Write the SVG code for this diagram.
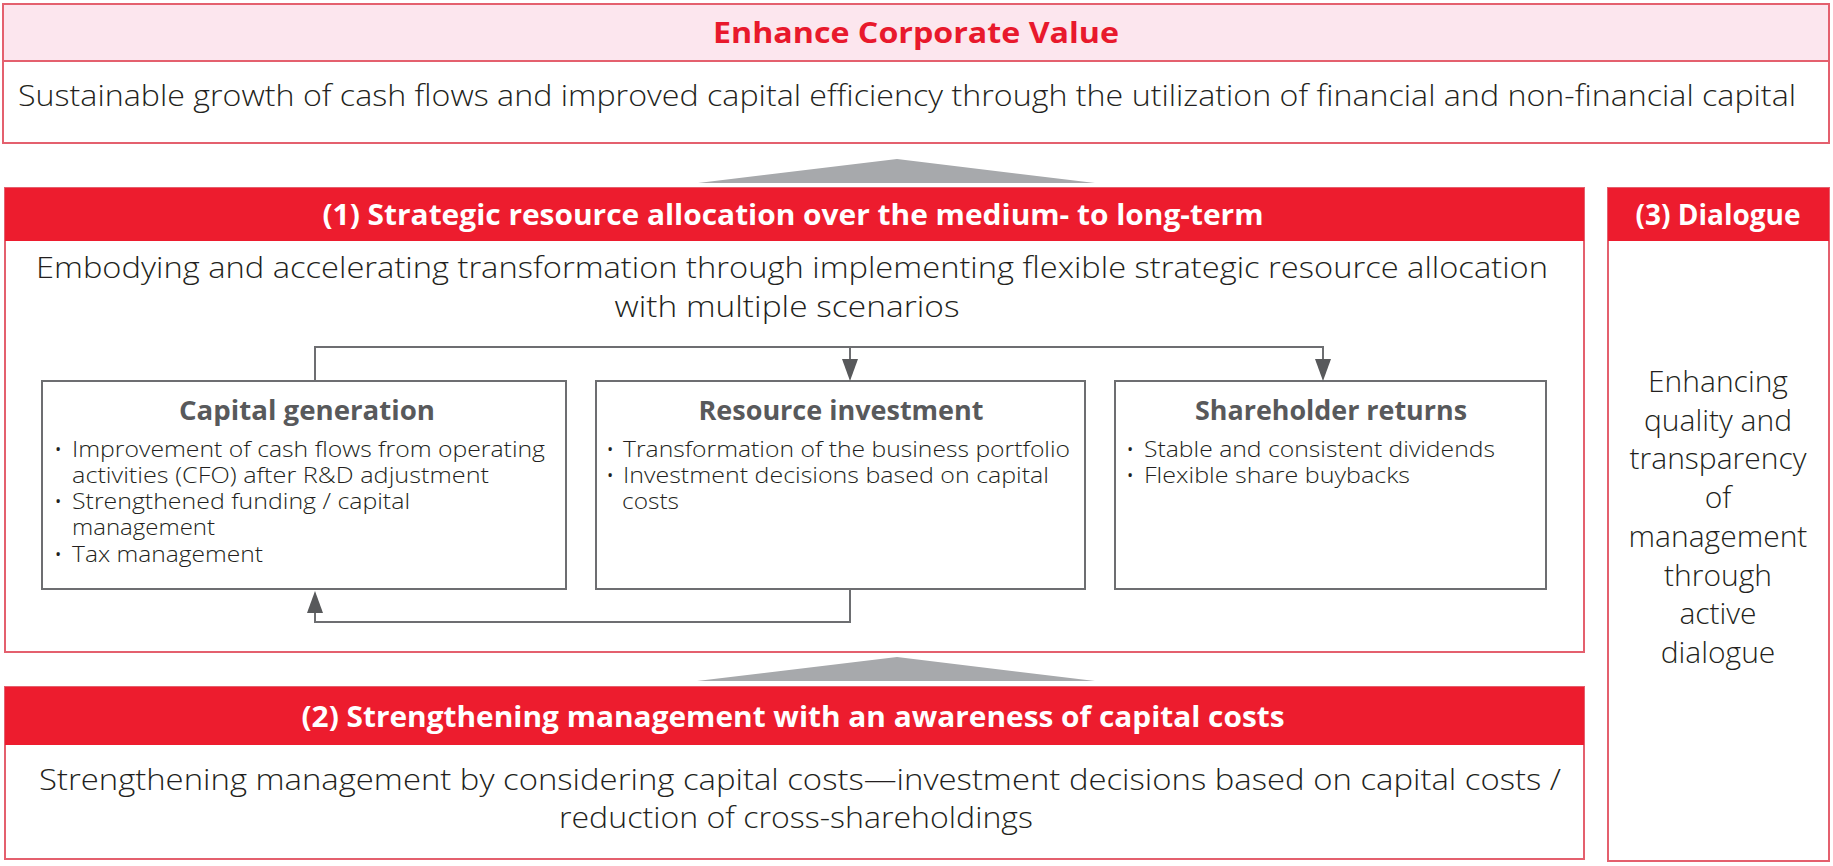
<svg xmlns="http://www.w3.org/2000/svg" width="1833" height="866" viewBox="0 0 1833 866">
<defs>
<style>
.frame{fill:#fff;stroke:#E4606E;stroke-width:2}
.bar{fill:#ED1C2E}
.pinkbar{fill:#FCE6EE;stroke:#E4606E;stroke-width:2}
.tri{fill:#A7A9AC}
.box{fill:#fff;stroke:#6D6E71;stroke-width:2}
.conn{fill:none;stroke:#6D6E71;stroke-width:2}
.body{font-family:"Open Sans","Noto Sans","Liberation Sans",sans-serif;font-weight:300;fill:#231F20}
.big{font-size:30px}
.small{font-size:22px}
.hdr{font-family:"Open Sans","Noto Sans","Liberation Sans",sans-serif;font-weight:700;font-size:28px;fill:#fff}
.ttl{font-family:"Open Sans","Noto Sans","Liberation Sans",sans-serif;font-weight:700;font-size:29px;fill:#E8192C}
.btitle{font-family:"Open Sans","Noto Sans","Liberation Sans",sans-serif;font-weight:700;font-size:26px;fill:#58595B}
.c{text-anchor:middle}
</style>
<marker id="ah" markerUnits="userSpaceOnUse" markerWidth="24" markerHeight="18" viewBox="0 -9 24 18" refX="0" refY="0" orient="auto">
<path d="M0,-8 L22,0 L0,8 z" fill="#58595B"/>
</marker>
</defs>

<g id="enhance-corporate-value">
<rect class="frame" x="3" y="4" width="1826" height="139"/>
<rect class="pinkbar" x="3" y="4" width="1826" height="57"/>
<text class="ttl c" x="916" y="43" textLength="406" lengthAdjust="spacingAndGlyphs">Enhance Corporate Value</text>
<text class="body big c" x="907" y="106" textLength="1778" lengthAdjust="spacingAndGlyphs">Sustainable growth of cash flows and improved capital efficiency through the utilization of financial and non-financial capital</text>
</g>

<g id="arrow-up-1">
<polygon class="tri" points="698,183 897,159 1095,183"/>
</g>

<g id="strategic-resource-allocation">
<rect class="frame" x="5" y="188" width="1579" height="464"/>
<rect class="bar" x="5" y="188" width="1579" height="53"/>
<text class="hdr c" x="793" y="225" textLength="941" lengthAdjust="spacingAndGlyphs">(1) Strategic resource allocation over the medium- to long-term</text>
<text class="body big c" x="792" y="278" textLength="1512" lengthAdjust="spacingAndGlyphs">Embodying and accelerating transformation through implementing flexible strategic resource allocation</text>
<text class="body big c" x="787" y="317" textLength="345" lengthAdjust="spacingAndGlyphs">with multiple scenarios</text>
</g>

<g id="capital-generation">
<rect class="box" x="42" y="381" width="524" height="208"/>
<text class="btitle c" x="307" y="420" textLength="256" lengthAdjust="spacingAndGlyphs">Capital generation</text>
<g class="body small">
<text x="54" y="457">•<tspan x="72" textLength="473" lengthAdjust="spacingAndGlyphs">Improvement of cash flows from operating</tspan></text>
<text x="72" y="483" textLength="417" lengthAdjust="spacingAndGlyphs">activities (CFO) after R&amp;D adjustment</text>
<text x="54" y="509">•<tspan x="72" textLength="338" lengthAdjust="spacingAndGlyphs">Strengthened funding / capital</tspan></text>
<text x="72" y="535" textLength="143" lengthAdjust="spacingAndGlyphs">management</text>
<text x="54" y="562">•<tspan x="72" textLength="191" lengthAdjust="spacingAndGlyphs">Tax management</tspan></text>
</g>
</g>

<g id="resource-investment">
<rect class="box" x="596" y="381" width="489" height="208"/>
<text class="btitle c" x="841" y="420" textLength="285" lengthAdjust="spacingAndGlyphs">Resource investment</text>
<g class="body small">
<text x="606" y="457">•<tspan x="623" textLength="447" lengthAdjust="spacingAndGlyphs">Transformation of the business portfolio</tspan></text>
<text x="606" y="483">•<tspan x="623" textLength="426" lengthAdjust="spacingAndGlyphs">Investment decisions based on capital</tspan></text>
<text x="622" y="509" textLength="57" lengthAdjust="spacingAndGlyphs">costs</text>
</g>
</g>

<g id="shareholder-returns">
<rect class="box" x="1115" y="381" width="431" height="208"/>
<text class="btitle c" x="1331" y="420" textLength="272" lengthAdjust="spacingAndGlyphs">Shareholder returns</text>
<g class="body small">
<text x="1126" y="457">•<tspan x="1144" textLength="351" lengthAdjust="spacingAndGlyphs">Stable and consistent dividends</tspan></text>
<text x="1126" y="483">•<tspan x="1144" textLength="266" lengthAdjust="spacingAndGlyphs">Flexible share buybacks</tspan></text>
</g>
</g>

<g id="connectors">
<path class="conn" d="M315,381 V347 H1323 V359" marker-end="url(#ah)"/>
<path class="conn" d="M850,347 V359" marker-end="url(#ah)"/>
<path class="conn" d="M850,589 V622 H315 V613" marker-end="url(#ah)"/>
</g>

<g id="arrow-up-2">
<polygon class="tri" points="697,681 897,657 1095,681"/>
</g>

<g id="capital-cost-awareness">
<rect class="frame" x="5" y="687" width="1579" height="172"/>
<rect class="bar" x="5" y="687" width="1579" height="58"/>
<text class="hdr c" x="793" y="727" textLength="983" lengthAdjust="spacingAndGlyphs">(2) Strengthening management with an awareness of capital costs</text>
<text class="body big c" x="800" y="790" textLength="1522" lengthAdjust="spacingAndGlyphs">Strengthening management by considering capital costs—investment decisions based on capital costs /</text>
<text class="body big c" x="796" y="828" textLength="474" lengthAdjust="spacingAndGlyphs">reduction of cross-shareholdings</text>
</g>

<g id="dialogue">
<rect class="frame" x="1608" y="188" width="221" height="673"/>
<rect class="bar" x="1608" y="188" width="221" height="53"/>
<text class="hdr c" x="1718" y="225">(3) Dialogue</text>
<g class="body big c">
<text x="1718" y="392">Enhancing</text>
<text x="1718" y="431">quality and</text>
<text x="1718" y="469">transparency</text>
<text x="1718" y="508">of</text>
<text x="1718" y="547">management</text>
<text x="1718" y="586">through</text>
<text x="1718" y="624">active</text>
<text x="1718" y="663">dialogue</text>
</g>
</g>
</svg>
